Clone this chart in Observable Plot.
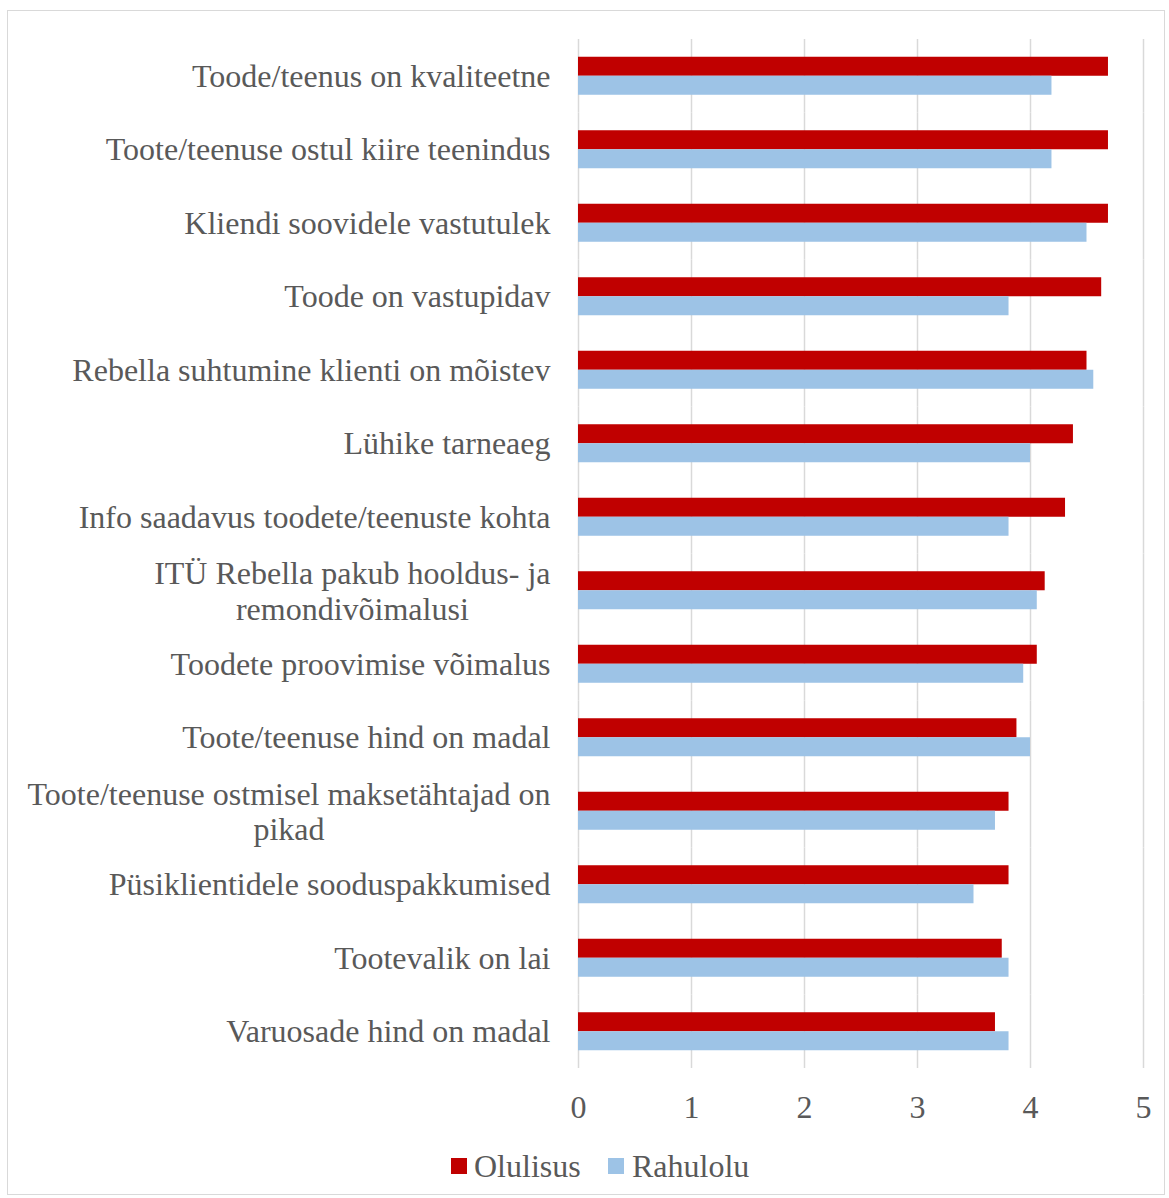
<!DOCTYPE html>
<html>
<head>
<meta charset="utf-8">
<script src="https://cdn.jsdelivr.net/npm/d3@7"></script>
<script src="https://cdn.jsdelivr.net/npm/@observablehq/plot@0.6"></script>
<style>
  html, body { margin: 0; padding: 0; background: #fff; }
  #frame {
    position: absolute; left: 7px; top: 10px; width: 1156px; height: 1183px;
    border: 1.5px solid #d9d9d9;
  }
  #chart { position: absolute; left: 0; top: 0; }
  #legend {
    position: absolute; left: 0; top: 1146px; width: 1169px;
    font-family: "Liberation Serif", "Times New Roman", serif; font-size: 32px; color: #595959;
  }
  .item { position: absolute; top: 0; line-height: 40px; white-space: nowrap; }
  .sw { position: absolute; top: 12px; width: 16px; height: 16px; }
</style>
</head>
<body>
<div id="frame"></div>
<div id="chart"></div>
<div id="legend"></div>
<script>
// Factors of a service, top to bottom
const categories = [
  "Toode/teenus on kvaliteetne",
  "Toote/teenuse ostul kiire teenindus",
  "Kliendi soovidele vastutulek",
  "Toode on vastupidav",
  "Rebella suhtumine klienti on mõistev",
  "Lühike tarneaeg",
  "Info saadavus toodete/teenuste kohta",
  "ITÜ Rebella pakub hooldus- ja\nremondivõimalusi",
  "Toodete proovimise võimalus",
  "Toote/teenuse hind on madal",
  "Toote/teenuse ostmisel maksetähtajad on\npikad",
  "Püsiklientidele sooduspakkumised",
  "Tootevalik on lai",
  "Varuosade hind on madal"
];
// Mean scores (0–5)
const olulisus = [4.69, 4.69, 4.69, 4.63, 4.50, 4.38, 4.31, 4.13, 4.06, 3.88, 3.81, 3.81, 3.75, 3.69];
const rahulolu = [4.19, 4.19, 4.50, 3.81, 4.56, 4.00, 3.81, 4.06, 3.94, 4.00, 3.69, 3.50, 3.81, 3.81];
const seriesNames = ["Olulisus", "Rahulolu"];
const seriesColors = ["#c00000", "#9dc3e6"];
const xTicks = [0, 1, 2, 3, 4, 5];

const rows = categories.flatMap((c, i) => [
  {category: c, series: seriesNames[0], value: olulisus[i]},
  {category: c, series: seriesNames[1], value: rahulolu[i]}
]);

const FONT = '"Liberation Serif", "Times New Roman", serif';
const FS = 32;
const labelGap = 28;

// measure text so multi-line labels can be centred as a block that ends at the axis
const ctx = document.createElement("canvas").getContext("2d");
ctx.font = `${FS}px "Liberation Serif"`;
const blockWidth = s => Math.max(...s.split("\n").map(l => ctx.measureText(l).width));

const single = categories.filter(c => !c.includes("\n"));
const multi = categories.filter(c => c.includes("\n"));

const labelMarks = [
  Plot.text(single, {
    fy: d => d, text: d => d, frameAnchor: "left", textAnchor: "end",
    dx: -labelGap, fontSize: FS, fill: "#595959"
  }),
  ...multi.map(m => Plot.text([m], {
    fy: d => d, text: d => d, frameAnchor: "left", textAnchor: "middle",
    dx: -labelGap - blockWidth(m) / 2, fontSize: FS, lineHeight: 1.1, fill: "#595959"
  }))
];

const chart = Plot.plot({
  width: 1169,
  height: 1130,
  marginLeft: 578,
  marginRight: 26,
  marginTop: 39,
  marginBottom: 62,
  style: {fontFamily: FONT, fontSize: `${FS}px`, color: "#595959", background: "transparent"},
  fy: {domain: categories, padding: 0, round: false, axis: null},
  y: {domain: seriesNames, paddingInner: 0, paddingOuter: 0.934, round: false, axis: null},
  x: {domain: [0, 5], axis: null, label: null},
  color: {domain: seriesNames, range: seriesColors},
  marks: [
    Plot.gridX(xTicks, {stroke: "#d9d9d9", strokeOpacity: 1, strokeWidth: 1.5}),
    Plot.barX(rows, {fy: "category", y: "series", x: "value", fill: "series"}),
    ...labelMarks,
    Plot.axisX(xTicks, {anchor: "bottom", tickSize: 0, tickPadding: 27, fontSize: FS, fill: "#595959", label: null, tickFormat: d => String(d), facetAnchor: "bottom"})
  ]
});
document.getElementById("chart").append(chart);

// legend
const legend = document.getElementById("legend");
const legendPos = [{sw: 451, tx: 474}, {sw: 608, tx: 632}];
seriesNames.forEach((name, i) => {
  const sw = document.createElement("div");
  sw.className = "sw";
  sw.style.left = legendPos[i].sw + "px";
  sw.style.background = seriesColors[i];
  legend.append(sw);
  const t = document.createElement("div");
  t.className = "item";
  t.style.left = legendPos[i].tx + "px";
  t.textContent = name;
  legend.append(t);
});
</script>
</body>
</html>
